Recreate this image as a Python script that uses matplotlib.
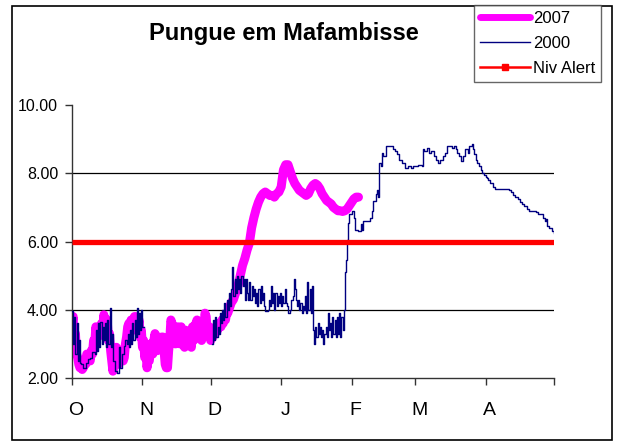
import matplotlib
matplotlib.use('Agg')
import matplotlib.pyplot as plt
from matplotlib.lines import Line2D
from matplotlib.patches import Rectangle
from matplotlib.transforms import ScaledTranslation

plt.rcParams['font.family'] = ['Liberation Sans', 'DejaVu Sans']

title = 'Pungue em Mafambisse'
month_labels = ['O', 'N', 'D', 'J', 'F', 'M', 'A']
month_starts = [0, 31, 61, 92, 123, 151, 182]
season_end = 212
y_ticks = [2, 4, 6, 8, 10]
y_tick_labels = ['2.00', '4.00', '6.00', '8.00', '10.00']
grid_levels = [4, 6, 8]
alert_level = 6.0
series_names = ['2007', '2000', 'Niv Alert']

# 2007 levels from 1 October: twice daily to day 70, then daily to day 126
days_2007 = [i * 0.5 for i in range(141)] + list(range(71, 127))
level_2007 = [
    3.6, 3.8, 3.1, 3.3, 2.7, 2.6, 2.4, 2.3, 2.3, 2.25,
    2.3, 2.5, 2.4, 2.7, 2.55, 2.6, 2.5, 2.8, 2.7, 3.1,
    3.0, 3.5, 3.3, 3.2, 3.5, 3.3, 3.6, 3.4, 3.85, 3.6,
    3.4, 3.7, 3.1, 3.3, 2.8, 2.5, 2.2, 2.5, 2.4, 2.9,
    2.6, 2.4, 2.5, 2.8, 2.7, 2.5, 2.6, 3.0, 3.2, 3.5,
    3.6, 3.3, 3.7, 3.4, 3.5, 3.8, 3.8, 3.4, 3.5, 3.7,
    3.2, 3.4, 2.9, 3.1, 2.6, 2.9, 2.3, 2.6, 2.5, 3.0,
    2.9, 2.7, 3.1, 3.3, 3.0, 2.8, 3.2, 3.0, 2.9, 3.2,
    3.2, 2.8, 2.4, 2.3, 2.3, 2.8, 3.1, 3.7, 3.6, 3.2,
    3.4, 3.0, 3.2, 3.5, 3.3, 3.0, 3.5, 3.2, 3.1, 2.9,
    3.4, 3.1, 3.0, 3.3, 3.2, 2.9, 3.5, 3.1, 3.3, 3.6,
    3.7, 3.2, 3.6, 3.3, 3.1, 3.4, 3.4, 3.9, 3.8, 3.3,
    3.3, 3.5, 3.1, 3.3, 3.2, 3.4, 3.3, 3.5, 3.4, 3.6,
    3.6, 3.5, 3.7, 3.6, 3.8, 3.7, 3.9, 3.9, 4.0, 4.1,
    4.2,
    4.3, 4.5, 4.7, 5.0, 5.3, 5.5, 5.75, 5.95, 6.4,
    6.7, 6.95, 7.15, 7.3, 7.4, 7.45, 7.4, 7.35, 7.35, 7.3,
    7.4, 7.45, 7.6, 8.1, 8.25, 8.25, 8.05, 7.85, 7.7, 7.6,
    7.5, 7.45, 7.4, 7.35, 7.4, 7.55, 7.65, 7.7, 7.65, 7.55,
    7.4, 7.3, 7.2, 7.15, 7.1, 7.0, 6.95, 6.9, 6.9, 6.88,
    6.9, 6.95, 7.05, 7.15, 7.25, 7.3, 7.3,
]

nan = float('nan')
# 2000 readings (day from 1 October, level); November missing
days_2000 = [
    0, 0.5, 1, 1.5, 2, 2.5, 3, 3.5, 4, 5, 6, 7, 8, 9, 10, 10.5, 11, 11.5,
    12, 12.5, 13, 13.5, 14, 14.5, 15, 15.5, 16, 16.5, 17, 17.5, 18, 19, 20,
    20.5, 21, 22, 23, 23.5, 24, 24.5, 25, 25.5, 26, 26.5, 27, 27.5, 28, 28.5,
    29, 29.5, 30, 30.5, 31, 31.5,
    61.5, 62, 62.5, 63, 63.5, 64, 64.5, 65, 65.5, 66, 66.5, 67, 67.5, 68,
    68.5, 69, 69.5, 70, 70.5, 71, 71.5, 72, 72.5, 73, 73.5, 74, 74.5, 75,
    75.5, 76, 76.5, 77, 77.5, 78, 78.5, 79, 79.5, 80, 80.5, 81, 81.5, 82,
    82.5, 83, 83.5, 84, 84.5, 85, 86, 86.5, 87, 87.5, 88, 88.5, 89, 89.5,
    90, 90.5, 91, 91.5, 92, 92.5, 93, 93.5, 94, 94.5, 95, 96, 96.5, 97,
    97.5, 98, 98.5, 99, 99.5, 100, 100.5, 101, 101.5, 102, 102.5, 103,
    103.5, 104, 104.5, 105, 105.5, 106, 106.5, 107, 107.5, 108, 108.5, 109,
    109.5, 110, 110.5, 111, 111.5, 112, 112.5, 113, 113.5, 114, 114.5, 115,
    115.5, 116, 116.5, 117, 117.5, 118, 118.5, 119, 119.5, 120, 120.5, 121,
    121.5, 122, 123, 124, 124.5, 126, 127, 127.5, 128, 131, 132, 132.5,
    133.5, 134, 134.5, 135, 136, 136.5, 137, 138, 140, 141, 142, 143, 144,
    145, 146.5, 148, 149, 150, 152, 154, 154.5, 155, 156, 157, 158, 159,
    160, 161, 162, 163, 164, 165, 167, 168, 169, 169.5, 170, 171, 172, 173,
    174, 174.5, 176, 176.5, 177, 177.5, 178, 179, 180, 180.5, 181, 182,
    182.5, 183, 184, 185, 186, 191.5, 192, 193, 194, 195, 196, 197, 198,
    199, 200, 201, 202, 204, 205, 206, 207, 208, 208.5, 209, 210, 211, 212,
]
level_2000 = [
    3.95, 3.0, 3.8, 2.7, 3.6, 2.5, 3.1, 2.45, 2.4, 2.3, 2.45, 2.55, 2.6, 2.75,
    2.7, 3.4, 2.8, 3.6, 2.9, 3.65, 3.0, 3.5, 3.1, 3.6, 2.9, 3.7, 3.0, 4.05,
    2.9, 3.3, 2.5, 2.2, 2.15, 2.9, 2.3, 2.7, 2.95, 3.1, 3.0, 3.3, 2.9, 3.4,
    3.0, 3.6, 3.1, 3.7, 3.2, 4.05, 3.3, 3.9, 3.4, 4.0, 3.5, nan,
    3.0, 3.7, 3.1, 3.8, 3.2, 3.5, 3.3, 3.9, 3.6, 4.0, 3.7, 4.2, 3.8, 4.3,
    4.0, 4.5, 4.1, 4.6, 5.25, 4.4, 4.9, 4.5, 5.0, 4.6, 4.9, 4.5, 5.0, 4.7,
    4.9, 4.3, 4.9, 4.5, 4.3, 4.8, 4.3, 4.7, 4.4, 4.6, 4.2, 4.5, 4.1, 4.6,
    4.2, 4.7, 4.3, 4.5, 4.1, 3.95, 4.0, 4.3, 4.1, 4.7, 4.2, 4.5, 4.0, 4.5,
    4.1, 4.4, 4.2, 4.5, 4.1, 4.4, 4.2, 4.6, 4.2, 4.1, 3.9, 4.0, 4.3, 4.4,
    4.9, 4.6, 4.3, 4.1, 4.3, 4.0, 4.2, 3.9, 4.1, 4.0, 4.4, 3.9,
    4.8, 4.0, 4.6, 3.9, 4.7, 3.4, 3.0, 3.5, 3.2, 3.6, 3.3, 3.5,
    3.2, 3.4, 3.0, 3.3, 3.5, 3.2, 3.9, 3.4, 3.6, 3.2, 3.8, 3.3,
    3.7, 3.2, 3.8, 3.3, 3.9, 3.2, 3.8, 3.4, 4.0, 5.1, 5.45, 6.05,
    6.55, 6.8, 6.9, 6.7, 6.35, 6.3, 6.5, 6.35, 6.6, 6.7, 6.9, 7.2,
    7.4, 7.5, 7.3, 8.3, 8.2, 8.6, 8.5, 8.8, 8.8, 8.7, 8.65, 8.55, 8.4,
    8.3, 8.15, 8.2, 8.15, 8.2, 8.25, 8.2, 8.7, 8.65, 8.75, 8.6, 8.65, 8.5,
    8.4, 8.3, 8.4, 8.5, 8.6, 8.8, 8.75, 8.8, 8.7, 8.6, 8.5, 8.35, 8.5, 8.7,
    8.6, 8.8, 8.85, 8.7, 8.55, 8.4, 8.3, 8.2, 8.1, 8.0, 7.95, 7.9,
    7.85, 7.8, 7.7, 7.6, 7.55, 7.55, 7.5, 7.45, 7.35, 7.3, 7.25, 7.15, 7.1,
    7.05, 6.95, 6.9, 6.9, 6.85, 6.8, 6.8, 6.7, 6.6, 6.65, 6.45, 6.4, 6.3, 6.25,
]

W, H = 619, 444
fig = plt.figure(figsize=(W / 100, H / 100), dpi=100)
fig.patches.append(Rectangle((12 / W, 4 / H), 600 / W, 434 / H, transform=fig.transFigure,
                             fill=False, edgecolor='black', linewidth=1.2))

ax = fig.add_axes([72 / W, 1 - 378 / H, (554 - 72) / W, (378 - 105) / H])
ax.set_xlim(0, season_end)
ax.set_ylim(y_ticks[0], y_ticks[-1])

for g in grid_levels:
    ax.axhline(g, color='black', linewidth=0.9, zorder=1)

ax.plot(days_2007, level_2007, color='#FF00FF', linewidth=6.5,
        solid_capstyle='round', solid_joinstyle='round', zorder=2)
ax.plot(days_2000, level_2000, color='#000080', linewidth=1.0,
        drawstyle='steps-post', zorder=3)
ax.plot([0, season_end], [alert_level, alert_level], color='#FF0000',
        linewidth=3.8, zorder=4, solid_capstyle='butt')

for s in ['top', 'right']:
    ax.spines[s].set_visible(False)
for s in ['left', 'bottom']:
    ax.spines[s].set_color('#333333')
    ax.spines[s].set_linewidth(1.0)

ax.set_yticks(y_ticks)
ax.set_yticklabels(y_tick_labels, fontsize=11.5)
ax.set_xticks(month_starts + [season_end])
ax.set_xticklabels(month_labels + [''], fontsize=14)
ax.tick_params(axis='both', direction='out', length=5, color='#333333', width=1.0)
ax.tick_params(axis='x', pad=12)
ax.tick_params(axis='y', pad=5)
offset = ScaledTranslation(4 / 100, 0, fig.dpi_scale_trans)
for lab in ax.get_xticklabels():
    lab.set_transform(lab.get_transform() + offset)

fig.text(284 / W, 1 - 40 / H, title, fontsize=17, fontweight='bold',
         ha='center', va='baseline')

handles = [
    Line2D([], [], color='#FF00FF', linewidth=5, solid_capstyle='round'),
    Line2D([], [], color='#000080', linewidth=1.0),
    Line2D([], [], color='#FF0000', linewidth=1.8, marker='s', markersize=4),
]
leg = fig.legend(handles, series_names, loc='upper right',
                 bbox_to_anchor=(601 / W, 1 - 5 / H), fontsize=12,
                 frameon=True, fancybox=False, handlelength=3.0,
                 handletextpad=0.2, labelspacing=0.6, borderpad=0.35,
                 borderaxespad=0)
leg.get_frame().set_edgecolor('#404040')
leg.get_frame().set_linewidth(1.0)

fig.savefig('out.png', dpi=100)
